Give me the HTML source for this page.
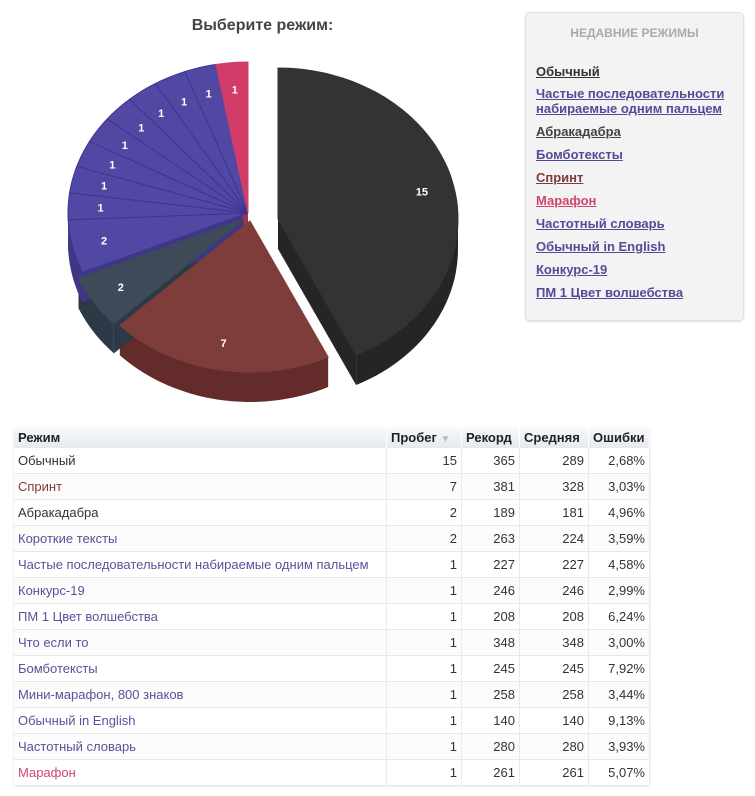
<!DOCTYPE html>
<html><head><meta charset="utf-8">
<style>
body{margin:0;width:755px;height:796px;background:#fff;font-family:"Liberation Sans",Arial,sans-serif;position:relative;overflow:hidden}
#title{position:absolute;left:160px;top:17px;width:205px;text-align:center;font-weight:bold;font-size:16px;color:#444}
#side{position:absolute;left:525px;top:12px;width:217px;height:307px;background:#f3f3f4;border:1px solid #e2e2e2;border-radius:5px;box-shadow:0 1px 2px #ddd}
#side h4{margin:0;position:absolute;top:13px;width:100%;text-align:center;font-size:12px;color:#aaa;font-weight:bold}
#side a{position:absolute;left:10px;font-size:13px;font-weight:bold;color:#544b98;text-decoration:underline;line-height:15px}
table{position:absolute;left:14px;top:428px;border-collapse:collapse;font-size:13px;color:#333;box-shadow:0 1px 2px #ddd}
th{height:19px;padding:0 4px;text-align:left;font-weight:bold;background:linear-gradient(#f6f8fb,#e6ebf1);border-right:1px solid #fff;color:#222}
td{height:25px;padding:0 4px;border-top:1px solid #e8e8e8;border-right:1px solid #eaeaea;text-align:right}
td:first-child{text-align:left}
tr:nth-child(odd) td{background:#fcfcfc}
.p{color:#5a5199}.b{color:#7f3c3a}.k{color:#d0466c}
</style></head><body>
<div id="title">Выберите режим:</div>
<svg id="pie" width="520" height="420" style="position:absolute;left:0;top:0"></svg>
<div id="side"><h4>НЕДАВНИЕ РЕЖИМЫ</h4>
<a style="top:51px;color:#333">Обычный</a>
<a style="top:73px">Частые последовательности<br>набираемые одним пальцем</a>
<a style="top:111px;color:#444">Абракадабра</a>
<a style="top:134px">Бомботексты</a>
<a style="top:157px;color:#7f3c3a">Спринт</a>
<a style="top:180px;color:#d0466c">Марафон</a>
<a style="top:203px">Частотный словарь</a>
<a style="top:226px">Обычный in English</a>
<a style="top:249px">Конкурс-19</a>
<a style="top:272px">ПМ 1 Цвет волшебства</a>
</div>
<table>
<tr><th style="width:364px">Режим</th><th style="width:66px">Пробег <span style="color:#bbb;font-size:10px">▼</span></th><th style="width:49px">Рекорд</th><th style="width:60px">Средняя</th><th style="width:52px">Ошибки</th></tr>
<tr><td>Обычный</td><td>15</td><td>365</td><td>289</td><td>2,68%</td></tr>
<tr><td class="b">Спринт</td><td>7</td><td>381</td><td>328</td><td>3,03%</td></tr>
<tr><td>Абракадабра</td><td>2</td><td>189</td><td>181</td><td>4,96%</td></tr>
<tr><td class="p">Короткие тексты</td><td>2</td><td>263</td><td>224</td><td>3,59%</td></tr>
<tr><td class="p">Частые последовательности набираемые одним пальцем</td><td>1</td><td>227</td><td>227</td><td>4,58%</td></tr>
<tr><td class="p">Конкурс-19</td><td>1</td><td>246</td><td>246</td><td>2,99%</td></tr>
<tr><td class="p">ПМ 1 Цвет волшебства</td><td>1</td><td>208</td><td>208</td><td>6,24%</td></tr>
<tr><td class="p">Что если то</td><td>1</td><td>348</td><td>348</td><td>3,00%</td></tr>
<tr><td class="p">Бомботексты</td><td>1</td><td>245</td><td>245</td><td>7,92%</td></tr>
<tr><td class="p">Мини-марафон, 800 знаков</td><td>1</td><td>258</td><td>258</td><td>3,44%</td></tr>
<tr><td class="p">Обычный in English</td><td>1</td><td>140</td><td>140</td><td>9,13%</td></tr>
<tr><td class="p">Частотный словарь</td><td>1</td><td>280</td><td>280</td><td>3,93%</td></tr>
<tr><td class="k">Марафон</td><td>1</td><td>261</td><td>261</td><td>5,07%</td></tr>
</table>
<script>
var cx=248,cy=213,rx=180,ry=151,D=30;
var S=[[15,'#333333','#252525',30,6],[7,'#7e3d3b','#632b2a',2,8],[2,'#3e4a57','#2e3947',-4,6],[2,'#5148a3','#3f3786',0,0]];
for(var i=0;i<8;i++)S.push([1,'#5148a3','#3f3786',0,0]);
S.push([1,'#d23c68','#a82d52',0,0]);
var tot=35,a=-Math.PI/2,tops='',labs='';
function P(t,ox,oy,d){return [cx+ox+rx*Math.cos(t),cy+oy+ry*Math.sin(t)+(d||0)];}
function arc(a0,a1,ox,oy,d){var s='';var n=Math.max(4,Math.ceil((a1-a0)*30));for(var k=0;k<=n;k++){var p=P(a0+(a1-a0)*k/n,ox,oy,d);s+=(k?'L':'')+p[0].toFixed(1)+','+p[1].toFixed(1);}return s;}
var sides='';
S.forEach(function(s){
 var a1=a+s[0]/tot*2*Math.PI,ox=s[3],oy=s[4],c=[cx+ox,cy+oy];
 [a,a1].forEach(function(t){var p=P(t,ox,oy);sides+='<path d="M'+c[0]+','+c[1]+'L'+p[0]+','+p[1]+'L'+p[0]+','+(p[1]+D)+'L'+c[0]+','+(c[1]+D)+'Z" fill="'+s[2]+'"/>';});
 var b0=Math.max(a,0),b1=Math.min(a1,Math.PI);
 if(b1>b0){var q=arc(b0,b1,ox,oy,0);var back=[];var n=Math.max(4,Math.ceil((b1-b0)*30));for(var k=n;k>=0;k--){var p=P(b0+(b1-b0)*k/n,ox,oy,D);back.push(p[0].toFixed(1)+','+p[1].toFixed(1));}
 sides+='<path d="M'+q+'L'+back.join('L')+'Z" fill="'+s[2]+'"/>';}
 tops+='<path d="M'+c[0]+','+c[1]+'L'+arc(a,a1,ox,oy,0)+'Z" fill="'+s[1]+'" stroke="'+(s[1]=='#5148a3'?'#3d3590':s[1])+'" stroke-width="1"/>';
 var m=(a+a1)/2,lp=[cx+ox+rx*0.82*Math.cos(m),cy+oy+ry*0.82*Math.sin(m)];
 labs+='<text x="'+lp[0].toFixed(1)+'" y="'+(lp[1]+4).toFixed(1)+'" text-anchor="middle" font-size="11" font-weight="bold" fill="#fff" font-family="Liberation Sans,sans-serif">'+s[0]+'</text>';
 a=a1;
});
document.getElementById('pie').innerHTML=sides+tops+labs;
</script>
</body></html>
